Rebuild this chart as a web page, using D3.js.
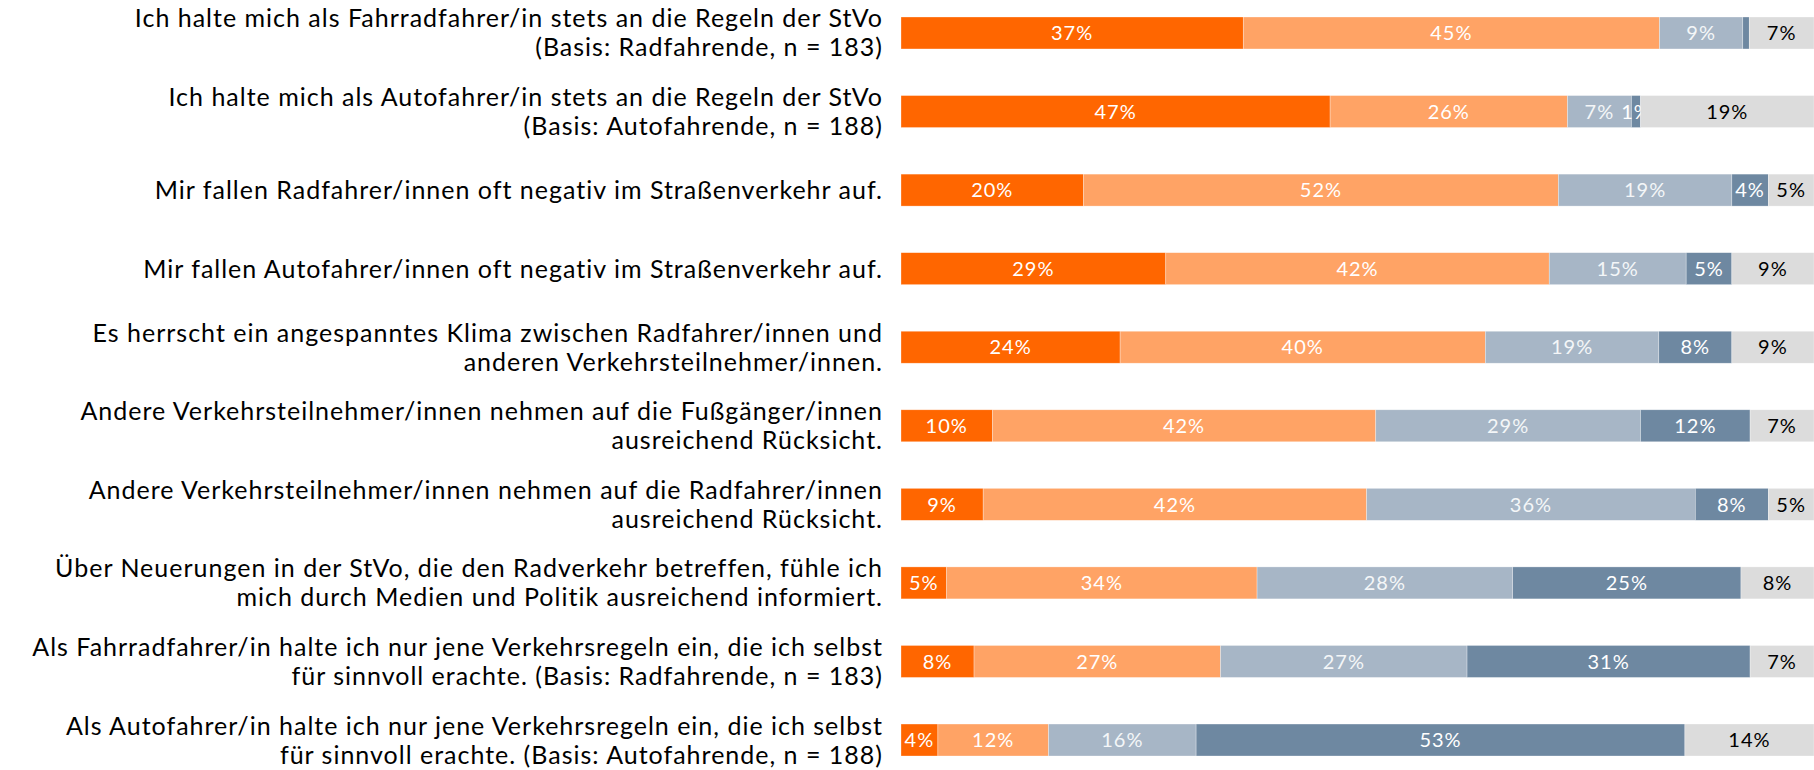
<!DOCTYPE html>
<html>
<head>
<meta charset="utf-8">
<script src="https://cdn.jsdelivr.net/npm/d3@7"></script>
<style>
  body { margin: 0; background: #fff; }
  svg text { font-family: Lato, "Open Sans", sans-serif; }
</style>
</head>
<body>
<div id="chart"></div>
<script>
// statements, each one or two lines of text
var statements = [
    ["Ich halte mich als Fahrradfahrer/in stets an die Regeln der StVo", "(Basis: Radfahrende, n = 183)"],
    ["Ich halte mich als Autofahrer/in stets an die Regeln der StVo", "(Basis: Autofahrende, n = 188)"],
    ["Mir fallen Radfahrer/innen oft negativ im Straßenverkehr auf."],
    ["Mir fallen Autofahrer/innen oft negativ im Straßenverkehr auf."],
    ["Es herrscht ein angespanntes Klima zwischen Radfahrer/innen und", "anderen Verkehrsteilnehmer/innen."],
    ["Andere Verkehrsteilnehmer/innen nehmen auf die Fußgänger/innen", "ausreichend Rücksicht."],
    ["Andere Verkehrsteilnehmer/innen nehmen auf die Radfahrer/innen", "ausreichend Rücksicht."],
    ["Über Neuerungen in der StVo, die den Radverkehr betreffen, fühle ich", "mich durch Medien und Politik ausreichend informiert."],
    ["Als Fahrradfahrer/in halte ich nur jene Verkehrsregeln ein, die ich selbst", "für sinnvoll erachte. (Basis: Radfahrende, n = 183)"],
    ["Als Autofahrer/in halte ich nur jene Verkehrsregeln ein, die ich selbst", "für sinnvoll erachte. (Basis: Autofahrende, n = 188)"]
];

// answer categories (no legend in the picture)
var answers = ["voll", "eher", "eherNicht", "garNicht", "keineAngabe"];

// percentages per answer, one value per statement
var voll        = [37, 47, 20, 29, 24, 10,  9,  5,  8,  4];
var eher        = [45, 26, 52, 42, 40, 42, 42, 34, 27, 12];
var eherNicht   = [ 9,  7, 19, 15, 19, 29, 36, 28, 27, 16];
var garNicht    = [0.7, 1,  4,  5,  8, 12,  8, 25, 31, 53];
var keineAngabe = [ 7, 19,  5,  9,  9,  7,  5,  8,  7, 14];

var colors = ["#ff6600", "#ffa365", "#a7b6c6", "#6e88a1", "#dcdcdc"];
var labelColors = ["#ffffff", "#ffffff", "#f4f6f8", "#ffffff", "#000000"];

var width = 1814, height = 770;

var rows = statements.map(function (s, i) {
    return {
        idx: i,
        voll: voll[i],
        eher: eher[i],
        eherNicht: eherNicht[i],
        garNicht: garNicht[i],
        keineAngabe: keineAngabe[i]
    };
});

var svg = d3.select("#chart")
    .append("svg")
    .attr("width", width)
    .attr("height", height);

var y = d3.scaleBand()
    .domain(d3.range(statements.length))
    .range([17, 756])
    .paddingInner(0.593)
    .paddingOuter(0);

var x = d3.scaleLinear()
    .domain([0, 1])
    .range([901, 1814]);

var stack = d3.stack()
    .keys(answers)
    .offset(d3.stackOffsetExpand);

var series = stack(rows);

var layers = svg.append("g")
    .selectAll("g")
    .data(series)
    .enter()
    .append("g")
    .attr("fill", function (d, i) { return colors[i]; });

layers.selectAll("rect")
    .data(function (d) { return d; })
    .enter()
    .append("rect")
    .attr("x", function (d) { return x(d[0]); })
    .attr("y", function (d) { return y(d.data.idx); })
    .attr("width", function (d) { return x(d[1]) - x(d[0]); })
    .attr("height", y.bandwidth())
    .attr("stroke", "#ffffff")
    .attr("stroke-width", 0.6)
    .attr("stroke-opacity", 0.5);

// value labels, centered in each segment
layers.each(function (s, k) {
    d3.select(this).selectAll("text")
        .data(s.filter(function (d) { return d.data[s.key] >= 1; }))
        .enter()
        .append("text")
        .attr("x", function (d) { return (x(d[0]) + x(d[1])) / 2; })
        .attr("y", function (d) { return y(d.data.idx) + y.bandwidth() / 2; })
        .attr("dy", "0.36em")
        .attr("text-anchor", "middle")
        .attr("fill", labelColors[k])
        .style("font-size", "20px")
        .style("letter-spacing", "1px")
        .text(function (d) { return d.data[s.key] + "%"; });
});

// statement labels on the left
var lineGap = 29;
var labels = svg.append("g")
    .selectAll("text")
    .data(statements)
    .enter()
    .append("text")
    .attr("text-anchor", "end")
    .attr("fill", "#000000")
    .style("font-size", "25px")
    .style("letter-spacing", "1px")
    .attr("y", function (d, i) {
        return y(i) + y.bandwidth() / 2 - (d.length - 1) * lineGap / 2;
    });

labels.selectAll("tspan")
    .data(function (d) { return d; })
    .enter()
    .append("tspan")
    .attr("x", 883)
    .attr("dy", function (d, j) { return j === 0 ? "0.36em" : lineGap; })
    .text(function (d) { return d; });
</script>
</body>
</html>
